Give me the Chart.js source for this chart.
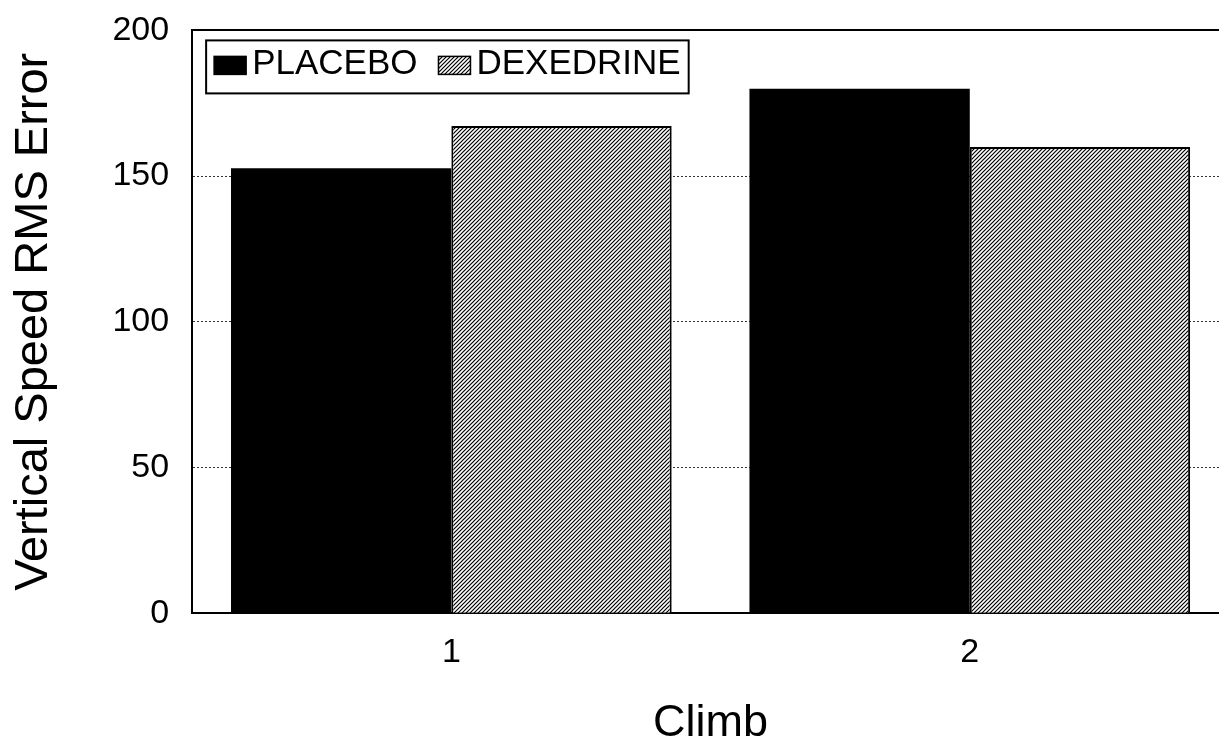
<!DOCTYPE html>
<html>
<head>
<meta charset="utf-8">
<script src="https://cdn.jsdelivr.net/npm/chart.js@4.4.1/dist/chart.umd.min.js"></script>
<style>
  html, body { margin: 0; padding: 0; background: #fff; overflow: hidden; }
  #wrap { width: 1232px; height: 764px; margin-top: -13px; }
</style>
</head>
<body>
<div id="wrap"><canvas id="chart" width="1232" height="764"></canvas></div>
<script>
// Vertical speed RMS error by climb, placebo vs dexedrine
const CLIMBS = ["1", "2"];
const PLACEBO = [152.7, 180];
const DEXEDRINE = [167.2, 160];
const Y_TICKS = [0, 50, 100, 150, 200];
const SERIES_NAMES = ["PLACEBO", "DEXEDRINE"];

const FONT = '"Liberation Sans", Arial, Helvetica, sans-serif';

// diagonal "/" hatch used for the dexedrine bars
function hatchPattern() {
  const c = document.createElement("canvas");
  c.width = 4;
  c.height = 4;
  const g = c.getContext("2d");
  g.fillStyle = "#fff";
  g.fillRect(0, 0, 4, 4);
  g.strokeStyle = "#000";
  g.lineWidth = 1.2;
  g.beginPath();
  g.moveTo(-1, 5); g.lineTo(5, -1);
  g.moveTo(-1, 1); g.lineTo(1, -1);
  g.moveTo(3, 5); g.lineTo(5, 3);
  g.stroke();
  return g.createPattern(c, "repeat");
}
const HATCH = hatchPattern();

// legend drawn in a bordered box inside the plot, top-left
const legendBox = {
  id: "legendBox",
  afterDraw(chart) {
    const { ctx, chartArea } = chart;
    const x0 = chartArea.left + 14;
    const y0 = chartArea.top + 10;
    const h = 53;
    const midY = y0 + 25;
    ctx.save();
    ctx.font = `35px ${FONT}`;
    let w = 8;
    chart.data.datasets.forEach((ds, i) => {
      if (i > 0) w += 21;
      w += 32 + 6 + ctx.measureText(ds.label).width;
    });
    w += 8;
    ctx.fillStyle = "#fff";
    ctx.fillRect(x0, y0, w, h);
    ctx.lineWidth = 2;
    ctx.strokeStyle = "#000";
    ctx.strokeRect(x0, y0, w, h);

    let x = x0 + 8;
    ctx.textBaseline = "middle";
    chart.data.datasets.forEach((ds, i) => {
      if (i > 0) x += 21;
      ctx.fillStyle = ds.backgroundColor;
      ctx.fillRect(x, midY - 9, 32, 18);
      ctx.lineWidth = 1.5;
      ctx.strokeRect(x, midY - 9, 32, 18);
      x += 32 + 6;
      ctx.fillStyle = "#000";
      ctx.fillText(ds.label, x, midY - 1);
      x += ctx.measureText(ds.label).width;
    });
    ctx.restore();
  }
};

new Chart(document.getElementById("chart"), {
  type: "bar",
  data: {
    labels: CLIMBS,
    datasets: [
      {
        label: SERIES_NAMES[0],
        data: PLACEBO,
        backgroundColor: "#000",
        borderColor: "#000",
        borderWidth: 0
      },
      {
        label: SERIES_NAMES[1],
        data: DEXEDRINE,
        backgroundColor: HATCH,
        borderColor: "#000",
        borderWidth: 2
      }
    ]
  },
  options: {
    responsive: false,
    animation: false,
    devicePixelRatio: 1,
    categoryPercentage: 0.85,
    barPercentage: 1.0,
    layout: { padding: { top: 17, right: 3, left: 0, bottom: 0 } },
    plugins: {
      legend: { display: false },
      tooltip: { enabled: false }
    },
    scales: {
      x: {
        grid: { display: false },
        border: { display: true, color: "#000", width: 2 },
        ticks: { color: "#000", font: { family: FONT, size: 34 }, padding: 11 },
        title: {
          display: true,
          text: "Climb",
          color: "#000",
          font: { family: FONT, size: 45 },
          padding: { top: 13, bottom: 0 }
        }
      },
      y: {
        min: 0,
        max: 200,
        afterBuildTicks: (scale) => {
          scale.ticks = Y_TICKS.map((v) => ({ value: v }));
        },
        grid: {
          drawTicks: false,
          color: (c) => (c.tick && c.tick.value === 0 ? "rgba(0,0,0,0)" : c.tick && c.tick.value === 200 ? "#000" : "#333"),
          lineWidth: (c) => (c.tick && c.tick.value === 200 ? 2 : 1)
        },
        border: {
          display: true,
          color: "#000",
          width: 2,
          dash: (c) => (c.tick && c.tick.value === 200 ? [] : [2, 2])
        },
        ticks: { color: "#000", font: { family: FONT, size: 34 }, padding: 23 },
        title: {
          display: true,
          text: "Vertical Speed RMS Error",
          color: "#000",
          font: { family: FONT, size: 47 },
          padding: { top: 6, bottom: 27 }
        }
      }
    }
  },
  plugins: [legendBox]
});
</script>
</body>
</html>
